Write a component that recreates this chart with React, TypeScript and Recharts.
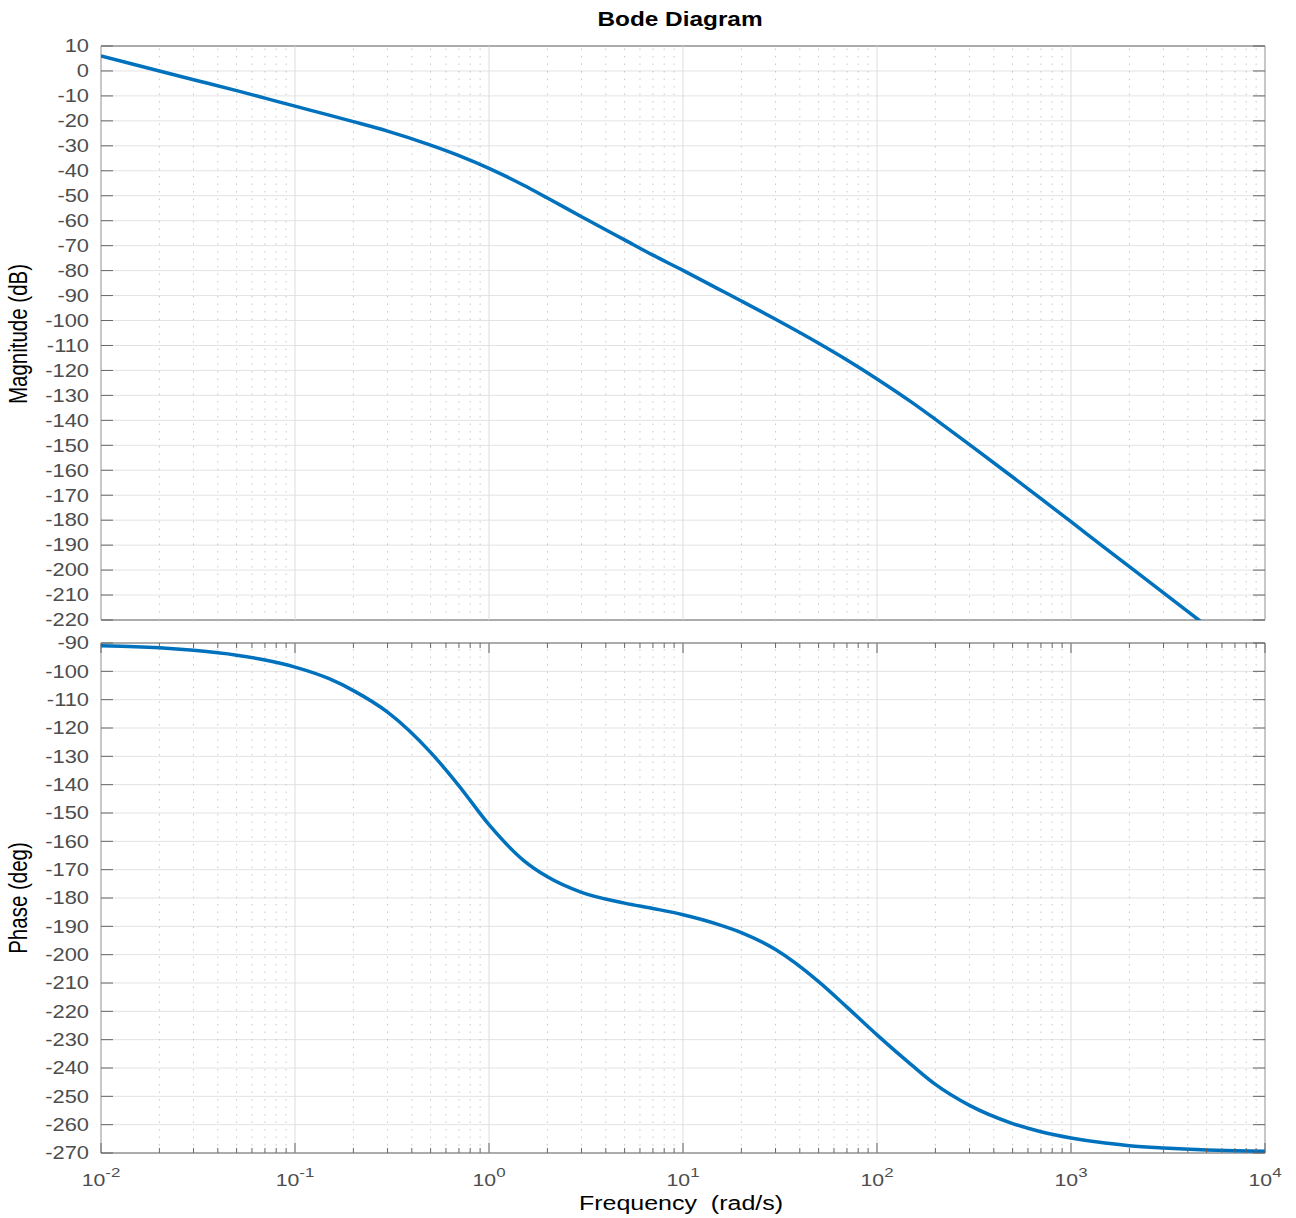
import React from 'react';
import { LineChart, Line, XAxis, YAxis, CartesianGrid, ReferenceLine, ReferenceArea } from 'recharts';

// frequencies in rad/s
const frequency = [
  0.01, 0.015, 0.02, 0.03, 0.05, 0.07, 0.1, 0.15, 0.2, 0.3, 0.5, 0.7, 1, 1.5, 2, 3, 5, 7, 10, 15,
  20, 30, 50, 70, 100, 150, 200, 300, 500, 700, 1000, 1500, 2000, 3000, 5000, 7000, 10000,
];

const magnitudeDb = [
  6.0, 2.5, 0.0, -3.5, -7.9, -10.9, -14.1, -17.7, -20.3, -24.1, -29.7, -33.9, -39.0, -45.7, -50.9,
  -58.4, -67.7, -73.8, -79.9, -87.1, -92.2, -99.5, -109.1, -115.8, -123.4, -132.6, -139.6, -149.7,
  -162.7, -171.4, -180.6, -191.2, -198.6, -209.1, -222.4, -231.2, -240.5,
];

const phaseDeg = [
  -91.0, -91.3, -91.7, -92.6, -94.3, -96.0, -98.5, -102.6, -106.8, -114.4, -128.6, -140.4, -154.1,
  -166.6, -172.5, -178.0, -181.8, -183.7, -185.9, -189.2, -192.2, -198.2, -209.5, -218.5, -228.3,
  -238.8, -245.8, -253.2, -259.6, -262.5, -264.7, -266.5, -267.4, -268.2, -268.9, -269.2, -269.4,
];

const decades = [0.01, 0.1, 1, 10, 100, 1000, 10000];
const decadeExponents = ['-2', '-1', '0', '1', '2', '3', '4'];
const minorSteps = [2, 3, 4, 5, 6, 7, 8, 9];
const minorTicks = decades.slice(0, -1).flatMap((d) => minorSteps.map((k) => d * k));
const xTicks = [...decades, ...minorTicks];

const magTicks = [
  10, 0, -10, -20, -30, -40, -50, -60, -70, -80, -90, -100, -110, -120, -130, -140, -150, -160,
  -170, -180, -190, -200, -210, -220,
];
const phaseTicks = [
  -90, -100, -110, -120, -130, -140, -150, -160, -170, -180, -190, -200, -210, -220, -230, -240,
  -250, -260, -270,
];

const data = frequency.map((f, i) => ({ f, mag: magnitudeDb[i], phase: phaseDeg[i] }));

const FONT = '"Liberation Sans", Arial, Helvetica, sans-serif';
const AXIS = '#666666';
const GRID = '#e3e3e3';
const LINE = '#0072BD';
const STRETCH = 1.25;

const PLOT_LEFT = 101;
const PLOT_RIGHT = 1265;

function YTick(props: any) {
  const { y, payload } = props;
  return (
    <g>
      <text
        transform={`translate(${PLOT_LEFT - 12},${y}) scale(${STRETCH},1)`}
        textAnchor="end"
        dy="0.36em"
        fontSize={17.5}
        fontFamily={FONT}
        fill="#4d4d4d"
      >
        {payload.value}
      </text>
      <line x1={PLOT_LEFT} x2={PLOT_LEFT + 12} y1={y} y2={y} stroke={AXIS} strokeWidth={1} />
      <line x1={PLOT_RIGHT - 12} x2={PLOT_RIGHT} y1={y} y2={y} stroke={AXIS} strokeWidth={1} />
    </g>
  );
}

function makeXTick(plotTop: number, plotBottom: number, showLabels: boolean) {
  return function XTick(props: any) {
    const { x, payload } = props;
    const idx = decades.indexOf(payload.value);
    const major = idx >= 0;
    const len = major ? 10 : 5;
    return (
      <g>
        <line x1={x} x2={x} y1={plotTop} y2={plotTop + len} stroke={AXIS} strokeWidth={1} />
        <line x1={x} x2={x} y1={plotBottom - len} y2={plotBottom} stroke={AXIS} strokeWidth={1} />
        {showLabels && major && (
          <text
            transform={`translate(${x},${plotBottom + 33}) scale(${STRETCH},1)`}
            textAnchor="middle"
            fontSize={17}
            fontFamily={FONT}
            fill="#4d4d4d"
          >
            <tspan>10</tspan>
            <tspan dy={-9} fontSize={13.5}>
              {decadeExponents[idx]}
            </tspan>
          </text>
        )}
      </g>
    );
  };
}

function Panel(props: {
  height: number;
  top: number;
  xHeight: number;
  dataKey: string;
  domain: [number, number];
  ticks: number[];
  showLabels: boolean;
}) {
  const { height, top, xHeight, dataKey, domain, ticks, showLabels } = props;
  const plotTop = top;
  const plotBottom = height - xHeight - (showLabels ? 0 : 12);
  return (
    <LineChart
      width={1296}
      height={height}
      data={data}
      margin={{ top, right: 1296 - PLOT_RIGHT, bottom: showLabels ? 0 : 12, left: 0 }}
    >
      <CartesianGrid vertical={false} stroke={GRID} strokeWidth={1} />
      {minorTicks.map((v) => (
        <ReferenceLine key={`m${v}`} x={v} stroke="#c8c8c8" strokeWidth={1} strokeDasharray="1.5 6" />
      ))}
      {decades.map((v) => (
        <ReferenceLine key={`d${v}`} x={v} stroke="#dcdcdc" strokeWidth={1} />
      ))}
      <XAxis
        dataKey="f"
        type="number"
        scale="log"
        domain={[0.01, 10000]}
        ticks={xTicks}
        interval={0}
        allowDataOverflow
        height={xHeight}
        axisLine={false}
        tickLine={false}
        tick={makeXTick(plotTop, plotBottom, showLabels)}
      />
      <YAxis
        type="number"
        domain={domain}
        ticks={ticks}
        interval={0}
        allowDataOverflow
        width={PLOT_LEFT}
        axisLine={false}
        tickLine={false}
        tick={<YTick />}
      />
      <ReferenceArea
        x1={0.01}
        x2={10000}
        y1={domain[0]}
        y2={domain[1]}
        fill="none"
        fillOpacity={0}
        stroke={AXIS}
        strokeWidth={1}
      />
      <Line
        dataKey={dataKey}
        type="monotone"
        stroke={LINE}
        strokeWidth={3.5}
        dot={false}
        isAnimationActive={false}
      />
    </LineChart>
  );
}

export default function App() {
  return (
    <div style={{ position: 'absolute', left: 0, top: 0, width: 1296, height: 1218, background: '#fff' }}>
      <div style={{ position: 'absolute', left: 0, top: 0 }}>
        <Panel
          height={632}
          top={46}
          xHeight={0}
          dataKey="mag"
          domain={[-220, 10]}
          ticks={magTicks}
          showLabels={false}
        />
      </div>
      <div style={{ position: 'absolute', left: 0, top: 632 }}>
        <Panel
          height={586}
          top={11}
          xHeight={65}
          dataKey="phase"
          domain={[-270, -90]}
          ticks={phaseTicks}
          showLabels={true}
        />
      </div>
      <svg
        width={1296}
        height={1218}
        style={{ position: 'absolute', left: 0, top: 0, pointerEvents: 'none' }}
      >
        <text
          transform={`translate(680,26) scale(${STRETCH},1)`}
          textAnchor="middle"
          fontSize={19.5}
          fontWeight="bold"
          fontFamily={FONT}
          fill="#000"
        >
          Bode Diagram
        </text>
        <text
          transform={`translate(27,334) scale(${STRETCH},1) rotate(-90)`}
          textAnchor="middle"
          fontSize={20.5}
          fontFamily={FONT}
          fill="#000"
        >
          Magnitude (dB)
        </text>
        <text
          transform={`translate(27,898) scale(${STRETCH},1) rotate(-90)`}
          textAnchor="middle"
          fontSize={20.5}
          fontFamily={FONT}
          fill="#000"
        >
          Phase (deg)
        </text>
        <text
          transform={`translate(681,1210) scale(${STRETCH},1)`}
          textAnchor="middle"
          fontSize={20}
          fontFamily={FONT}
          fill="#000"
          style={{ whiteSpace: 'pre' }}
        >
          Frequency  (rad/s)
        </text>
      </svg>
    </div>
  );
}
